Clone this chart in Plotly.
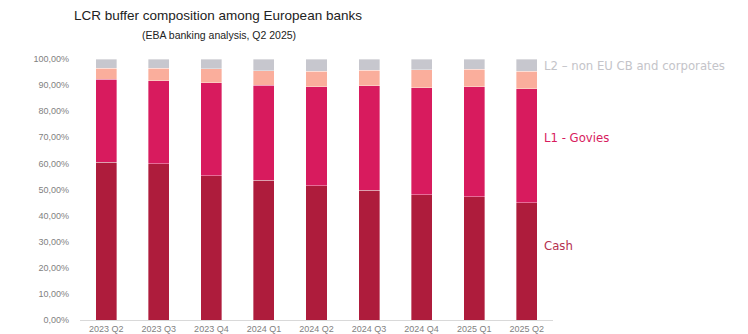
import plotly.graph_objects as go

quarters = ["2023 Q2", "2023 Q3", "2023 Q4", "2024 Q1", "2024 Q2",
            "2024 Q3", "2024 Q4", "2025 Q1", "2025 Q2"]
cash = [60.4, 59.8, 55.3, 53.6, 51.5, 49.8, 47.9, 47.2, 44.9]
l1_govies = [31.8, 31.8, 35.6, 36.4, 37.9, 39.9, 41.1, 42.2, 43.7]
other_hqla = [4.3, 4.8, 5.3, 5.5, 6.0, 6.0, 6.8, 6.6, 6.8]
l2_non_eu = [3.5, 3.6, 3.8, 4.5, 4.6, 4.3, 4.2, 4.0, 4.6]

y_tick_vals = [0, 10, 20, 30, 40, 50, 60, 70, 80, 90, 100]
y_tick_text = ["0,00%", "10,00%", "20,00%", "30,00%", "40,00%", "50,00%",
               "60,00%", "70,00%", "80,00%", "90,00%", "100,00%"]

series = [
    ("Cash", cash, "#AE1C3C"),
    ("L1 - Govies", l1_govies, "#D81B5E"),
    ("Other", other_hqla, "#FAAE9C"),
    ("L2 – non EU CB and corporates", l2_non_eu, "#C7C7CE"),
]

fig = go.Figure()
for name, vals, col in series:
    fig.add_trace(go.Bar(
        x=quarters, y=vals, name=name,
        marker=dict(color=col, line=dict(color="rgba(255,255,255,0.6)", width=0.6)),
    ))

label_font = "DejaVu Sans, Verdana, sans-serif"
annots = [
    ("L2 – non EU CB and corporates", 97.4, "#C4C4C9"),
    ("L1 - Govies", 69.7, "#D81B5E"),
    ("Cash", 28.3, "#B5304F"),
]
for txt, yv, col in annots:
    fig.add_annotation(
        xref="paper", yref="y", x=(542 - 80) / 473, y=yv, text=txt,
        showarrow=False, xanchor="left", yanchor="middle",
        font=dict(size=11.7, color=col, family=label_font),
    )

title_font = "Liberation Sans, Arial, sans-serif"
fig.add_annotation(xref="paper", yref="paper", x=(218 - 80) / 473, y=1 + (59 - 16) / 261,
                   text="LCR buffer composition among European banks", showarrow=False,
                   xanchor="center", yanchor="middle",
                   font=dict(size=13.5, color="#222222", family=title_font))
fig.add_annotation(xref="paper", yref="paper", x=(219 - 80) / 473, y=1 + (59 - 35) / 261,
                   text="(EBA banking analysis, Q2 2025)", showarrow=False,
                   xanchor="center", yanchor="middle",
                   font=dict(size=10.5, color="#222222", family=title_font))

fig.update_layout(
    barmode="stack",
    bargap=0.6,
    width=748, height=334,
    margin=dict(l=80, r=195, t=59, b=14, autoexpand=False),
    paper_bgcolor="white", plot_bgcolor="white",
    showlegend=False,
    font=dict(family="Liberation Sans, Arial, sans-serif", color="#7f7f7f", size=9),
    xaxis=dict(showline=True, linecolor="#d9d9d9", linewidth=1, ticks="",
               showgrid=False, automargin=False, ticklabelstandoff=0,
               tickfont=dict(size=9, color="#7f7f7f")),
    yaxis=dict(range=[0, 100], tickvals=y_tick_vals, ticktext=y_tick_text,
               showgrid=False, zeroline=False, showline=False, ticks="",
               automargin=False,
               tickfont=dict(size=9, color="#7f7f7f"), ticklabelstandoff=10),
)

fig.write_html("out.html")
